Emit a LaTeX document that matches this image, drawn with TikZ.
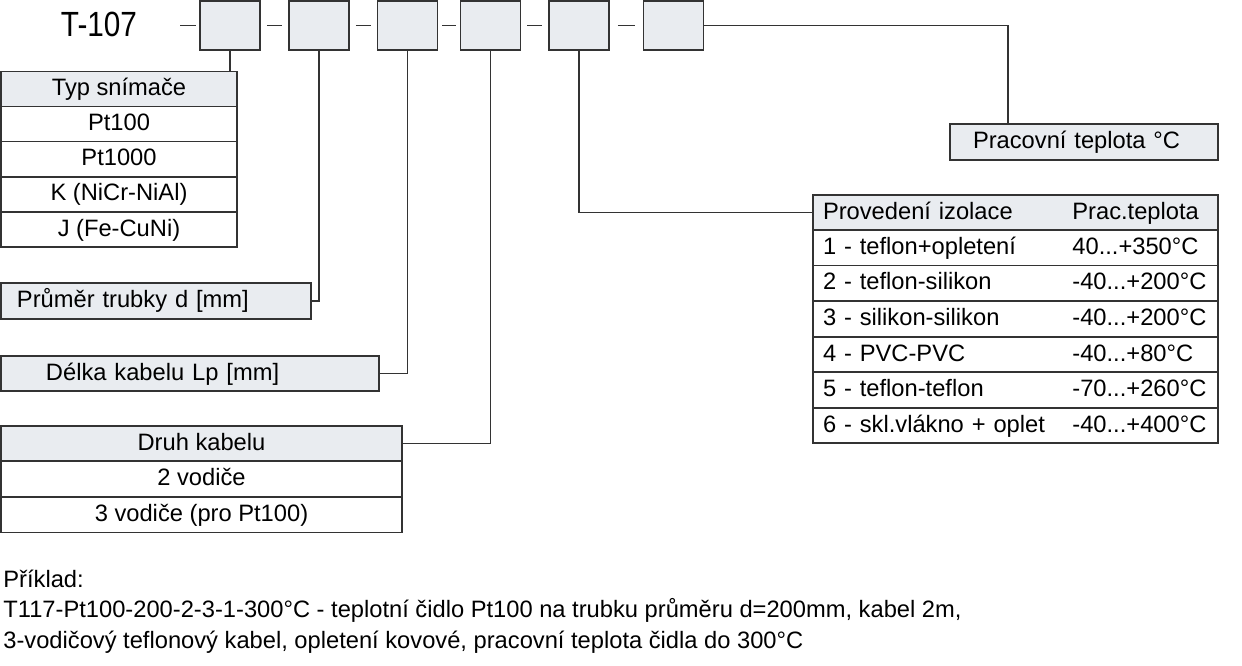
\documentclass[tikz,border=0pt]{standalone}
\usepackage{fontspec}
\setmainfont{Liberation Sans}
\newfontfamily\titlefont[FakeStretch=0.85]{Liberation Sans}
\definecolor{headfill}{HTML}{E9ECF0}
\definecolor{edge}{HTML}{333333}

\begin{document}
\begin{tikzpicture}[x=0.5pt, y=-0.5pt, font=\fontsize{11.85}{14}\selectfont,
  every node/.style={inner sep=0pt},
  txt/.style={text height=9pt, text depth=2.5pt},
  slot/.style={draw=edge, line width=0.8pt, fill=headfill, minimum width=30pt, minimum height=24.5pt},
  cell/.style={txt, draw=edge, line width=0.8pt, fill=white, minimum height=17.6pt},
  head/.style={cell, fill=headfill},
  link/.style={draw=edge, line width=0.7pt}]
  \useasboundingbox (0,0) rectangle (1242,665);

  % ordering code
  \node[font=\titlefont\fontsize{17.5}{20}\selectfont] at (99,24.5) (code) {T-107};
  \coordinate (lead) at (180,25.5);
  \node[slot] at (230,25.5) (b1) {};
  \node[slot] at (319,25.5) (b2) {};
  \node[slot] at (407.5,25.5) (b3) {};
  \node[slot] at (490.5,25.5) (b4) {};
  \node[slot] at (579,25.5) (b5) {};
  \node[slot] at (673.5,25.5) (b6) {};
  \draw[link, shorten >=1.5pt] (lead) -- (b1.west);
  \draw[link, shorten <=3pt, shorten >=3pt] (b1.east) -- (b2.west);
  \draw[link, shorten <=3pt, shorten >=3pt] (b2.east) -- (b3.west);
  \draw[link, shorten <=2pt, shorten >=2pt] (b3.east) -- (b4.west);
  \draw[link, shorten <=3pt, shorten >=3pt] (b4.east) -- (b5.west);
  \draw[link, shorten <=4pt, shorten >=4pt] (b5.east) -- (b6.west);

  % sensor type
  \node[head, minimum width=118pt] at (119,89.2) (typ0) {Typ snímače};
  \node[cell, minimum width=118pt] at (119,124.2) (typ1) {Pt100};
  \node[cell, minimum width=118pt] at (119,159.2) (typ2) {Pt1000};
  \node[cell, minimum width=118pt] at (119,194.4) (typ3) {K (NiCr-NiAl)};
  \node[cell, minimum width=118pt] at (119,229.5) (typ4) {J (Fe-CuNi)};

  % tube and cable
  \node[head, minimum height=18pt, text width=139pt, inner xsep=8pt, align=left] at (156,301) (prum) {Průměr trubky d [mm]};
  \node[head, minimum height=17.5pt, text width=144pt, inner xsep=22.5pt, align=left] at (190,373.5) (delka) {Délka kabelu Lp [mm]};
  \node[head, minimum width=200.5pt] at (201.5,443.5) (druh0) {Druh kabelu};
  \node[cell, minimum width=200.5pt] at (201.5,479) (druh1) {2 vodiče};
  \node[cell, minimum width=200.5pt] at (201.5,515) (druh2) {3 vodiče (pro Pt100)};

  % temperature
  \node[head, minimum height=18pt, text width=111pt, inner xsep=11.5pt, align=left] at (1084,142) (prac) {Pracovní teplota °C};
  \coordinate (pk) at (1008,124);

  % insulation
  \node[head, minimum height=17.75pt, text width=192.5pt, inner xsep=5pt, align=left] at (1015.5,212.5) (iso0) {Provedení izolace};
  \node[cell, minimum height=17.75pt, text width=192.5pt, inner xsep=5pt, align=left] at (1015.5,248) (iso1) {1 - teflon+opletení};
  \node[cell, minimum height=17.75pt, text width=192.5pt, inner xsep=5pt, align=left] at (1015.5,283.4) (iso2) {2 - teflon-silikon};
  \node[cell, minimum height=17.75pt, text width=192.5pt, inner xsep=5pt, align=left] at (1015.5,319) (iso3) {3 - silikon-silikon};
  \node[cell, minimum height=17.75pt, text width=192.5pt, inner xsep=5pt, align=left] at (1015.5,354.5) (iso4) {4 - PVC-PVC};
  \node[cell, minimum height=17.75pt, text width=192.5pt, inner xsep=5pt, align=left] at (1015.5,390) (iso5) {5 - teflon-teflon};
  \node[cell, minimum height=17.75pt, text width=192.5pt, inner xsep=5pt, align=left] at (1015.5,425.5) (iso6) {6 - skl.vlákno + oplet};
  \node[txt, anchor=west] at (1072,212.5) (t0) {Prac.teplota};
  \node[txt, anchor=west] at (1072,248) (t1) {40...+350°C};
  \node[txt, anchor=west] at (1072,283.4) (t2) {-40...+200°C};
  \node[txt, anchor=west] at (1072,319) (t3) {-40...+200°C};
  \node[txt, anchor=west] at (1072,354.5) (t4) {-40...+80°C};
  \node[txt, anchor=west] at (1072,390) (t5) {-70...+260°C};
  \node[txt, anchor=west] at (1072,425.5) (t6) {-40...+400°C};

  % leaders
  \draw[link] (b1.south) -- (b1.south |- typ0.north);
  \draw[link] (b2.south) |- (prum.east);
  \draw[link] (b3.south) |- (delka.east);
  \draw[link] (b4.south) |- (druh0.east);
  \draw[link] (b5.south) |- (iso0.west);
  \draw[link] (b6.east) -| (pk);

  % example
  \node[anchor=base west] at (3,587) (ex0) {Příklad:};
  \node[anchor=base west] at (3,617) (ex1) {T117-Pt100-200-2-3-1-300°C - teplotní čidlo Pt100 na trubku průměru d=200mm, kabel 2m,};
  \node[anchor=base west] at (3,648) (ex2) {3-vodičový teflonový kabel, opletení kovové, pracovní teplota čidla do 300°C};
\end{tikzpicture}
\end{document}
